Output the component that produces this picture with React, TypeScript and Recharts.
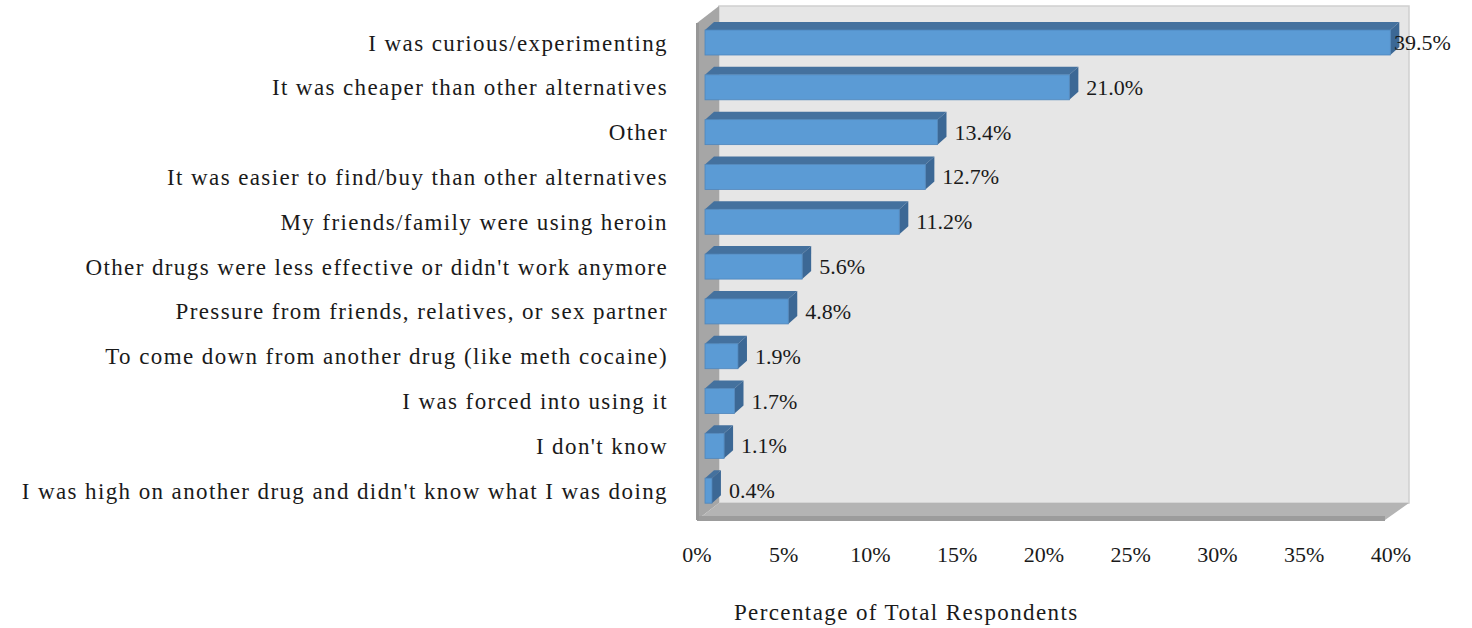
import React from "react";
import { BarChart, Bar, XAxis, YAxis, ReferenceArea, LabelList } from "recharts";

const reasons = [
  "I was curious/experimenting",
  "It was cheaper than other alternatives",
  "Other",
  "It was easier to find/buy than other alternatives",
  "My friends/family were using heroin",
  "Other drugs were less effective or didn't work anymore",
  "Pressure from friends, relatives, or sex partner",
  "To come down from another drug (like meth cocaine)",
  "I was forced into using it",
  "I don't know",
  "I was high on another drug and didn't know what I was doing",
];
const shares = [39.5, 21.0, 13.4, 12.7, 11.2, 5.6, 4.8, 1.9, 1.7, 1.1, 0.4];
const xTicks = [0, 5, 10, 15, 20, 25, 30, 35, 40];

const data = reasons.map((reason, i) => ({ reason, share: shares[i] }));

const FONT = "'Liberation Serif', 'Times New Roman', serif";
const TEXT = "#1a1a1a";
const DX = 9;
const DY = -8;

// walls of the 3d box, drawn around the plot area
const Walls = (props: any) => {
  const { x, y, width, height } = props;
  const fx = x - 8, fy = y + 3, fw = width - 6, fb = y + height + 7;
  const bx = fx + 22, by = fy - 17, bb = fb - 17;
  return (
    <g>
      <rect x={bx} y={by} width={fw + 2} height={bb - by} fill="#e6e6e6" stroke="#cfcfcf" strokeWidth={1.5} />
      <polygon points={`${fx},${fy} ${bx},${by} ${bx},${bb} ${fx},${fb}`} fill="#a6a6a6" />
      <polygon points={`${fx},${fb} ${bx},${bb} ${bx + fw + 2},${bb} ${fx + fw},${fb}`} fill="#b4b4b4" />
      <rect x={fx} y={fb - 4} width={fw} height={5} fill="#9c9c9c" />
      <rect x={fx - 1} y={fy} width={3} height={fb - fy} fill="#979797" />
    </g>
  );
};

const Box = (props: any) => {
  const { x, y, width, height } = props;
  const r = x + width;
  return (
    <g>
      <polygon points={`${x},${y} ${x + DX},${y + DY} ${r + DX},${y + DY} ${r},${y}`} fill="#44719e" />
      <polygon points={`${r},${y} ${r + DX},${y + DY} ${r + DX},${y + height + DY} ${r},${y + height}`} fill="#3c6895" />
      <rect x={x} y={y} width={width} height={height} fill="#5b9bd5" stroke="#4f86bb" strokeWidth={0.8} />
    </g>
  );
};

const ValueLabel = (props: any) => {
  const { x, y, width, height, value } = props;
  return (
    <text x={Math.min(x + width + 17, 1394)} y={y + height / 2} dominantBaseline="central" fontFamily={FONT} fontSize={22} fill={TEXT}>
      {`${Number(value).toFixed(1)}%`}
    </text>
  );
};

const AxisTitle = (props: any) => {
  const { viewBox } = props;
  return (
    <text x={viewBox.x + viewBox.width * 0.29} y={620} textAnchor="middle" fontFamily={FONT} fontSize={23} letterSpacing={1.4} fill={TEXT}>
      Percentage of Total Respondents
    </text>
  );
};

export default function App() {
  return (
    <div style={{ position: "absolute", left: 0, top: 0, background: "#fff" }}>
      <BarChart
        width={1472}
        height={628}
        data={data}
        layout="vertical"
        margin={{ top: 20, right: 73, bottom: 85, left: 0 }}
        barCategoryGap={20}
      >
        <XAxis
          type="number"
          domain={[0, 40]}
          ticks={xTicks}
          tickFormatter={(v) => `${v}%`}
          axisLine={false}
          tickLine={false}
          tickSize={0}
          tickMargin={33}
          height={30}
          tick={{ fill: TEXT, fontSize: 22, fontFamily: FONT, dx: -8 }}
          label={{ content: AxisTitle }}
        />
        <YAxis
          type="category"
          dataKey="reason"
          width={705}
          axisLine={false}
          tickLine={false}
          tickSize={0}
          tickMargin={37}
          interval={0}
          tick={{ fill: TEXT, fontSize: 23, fontFamily: FONT, letterSpacing: 1.4 }}
        />
        <ReferenceArea x1={0} x2={40} shape={Walls} ifOverflow="visible" />
        <Bar dataKey="share" barSize={25} shape={Box} isAnimationActive={false}>
          <LabelList dataKey="share" content={ValueLabel} />
        </Bar>
      </BarChart>
    </div>
  );
}
